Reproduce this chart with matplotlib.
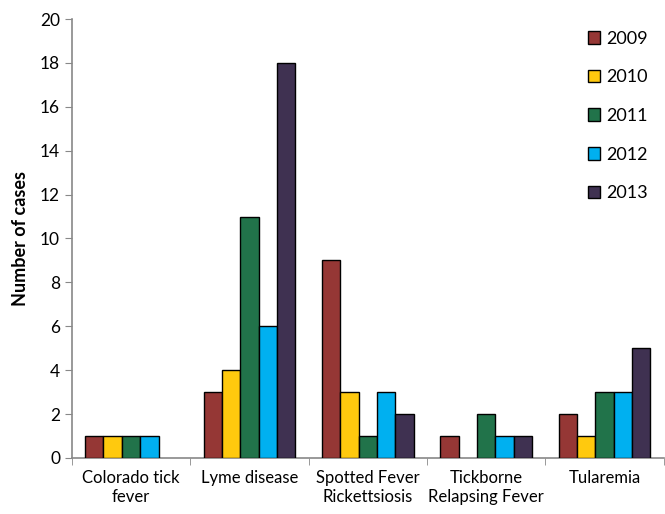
import matplotlib
matplotlib.use("Agg")
import matplotlib.pyplot as plt
import numpy as np

plt.rcParams['font.family'] = ['Lato', 'DejaVu Sans']

categories = ["Colorado tick\nfever", "Lyme disease", "Spotted Fever\nRickettsiosis",
              "Tickborne\nRelapsing Fever", "Tularemia"]
years = ["2009", "2010", "2011", "2012", "2013"]
cases_2009 = [1, 3, 9, 1, 2]
cases_2010 = [1, 4, 3, 0, 1]
cases_2011 = [1, 11, 1, 2, 3]
cases_2012 = [1, 6, 3, 1, 3]
cases_2013 = [0, 18, 2, 1, 5]
colors = ["#953735", "#FFC90E", "#21734A", "#00B0F0", "#3F3151"]

series = [cases_2009, cases_2010, cases_2011, cases_2012, cases_2013]

fig = plt.figure(figsize=(6.65, 5.14), dpi=100)
ax = fig.add_axes([0.108, 0.109, 0.89, 0.854])

x = np.arange(len(categories))
width = 0.155
for i, (vals, yr, c) in enumerate(zip(series, years, colors)):
    offs = (i - 2) * width
    # zero values are left out so no flat bar shows up
    xs = [xi + offs for xi, v in zip(x, vals) if v > 0]
    vs = [v for v in vals if v > 0]
    ax.bar(xs, vs, width, color=c, edgecolor="black", linewidth=1, label=yr, zorder=3)

ax.set_xlim(-0.5, len(categories) - 0.5)
ax.set_ylim(0, 20)
ax.set_yticks(range(0, 21, 2))
ax.set_xticks(x)
ax.set_xticklabels(categories, fontsize=12)
ax.set_xticks(np.arange(-0.5, len(categories), 1), minor=True)
ax.tick_params(axis='x', which='major', length=0, pad=9)
ax.tick_params(axis='x', which='minor', length=5, color="#888888", direction='out')
ax.tick_params(axis='y', labelsize=12.5, length=5, color="#888888", direction='out')

for s in ["top", "right"]:
    ax.spines[s].set_visible(False)
for s in ["left", "bottom"]:
    ax.spines[s].set_color("#888888")
    ax.spines[s].set_linewidth(1.2)

ax.set_ylabel("Number of cases", fontsize=13, fontweight="bold", labelpad=8)

ax.legend(loc="upper right", frameon=False, fontsize=13, handlelength=0.7,
          handleheight=0.7, labelspacing=1.25, handletextpad=0.3,
          bbox_to_anchor=(1.0, 1.01))

fig.savefig("out.png", dpi=100)
